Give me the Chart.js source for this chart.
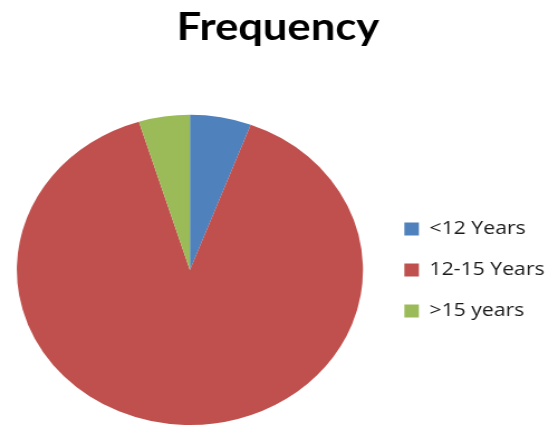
<!DOCTYPE html>
<html>
<head>
<meta charset="utf-8">
<script src="https://cdn.jsdelivr.net/npm/chart.js@4.4.1/dist/chart.umd.min.js"></script>
<style>
  html, body { margin: 0; padding: 0; background: #ffffff; }
  #c { display: block; width: 558px; height: 428px; }
</style>
</head>
<body>
<canvas id="c" width="500" height="428" style="width:558px;height:428px;"></canvas>
<script>
const chartTitle = 'Frequency';
const categories = ['<12 Years', '12-15 Years', '>15 years'];
const frequencies = [6, 94, 5];
const sliceColors = ['#4F81BD', '#C0504D', '#9BBB59'];

new Chart(document.getElementById('c'), {
  type: 'pie',
  data: {
    labels: categories,
    datasets: [{
      data: frequencies,
      backgroundColor: sliceColors,
      borderWidth: 0
    }]
  },
  options: {
    responsive: false,
    maintainAspectRatio: false,
    animation: false,
    layout: { padding: { left: 0, right: 2, top: 0, bottom: 3 } },
    plugins: {
      tooltip: { enabled: false },
      title: {
        display: true,
        text: chartTitle,
        color: '#000000',
        font: { family: 'Lato', size: 39, weight: 'bold' },
        padding: { top: 4, bottom: 64 }
      },
      legend: {
        position: 'right',
        fullSize: false,
        labels: {
          color: '#1a1a1a',
          font: { family: 'Open Sans', size: 19 },
          boxWidth: 13,
          boxHeight: 13,
          padding: 22
        }
      }
    }
  }
});
</script>
</body>
</html>
